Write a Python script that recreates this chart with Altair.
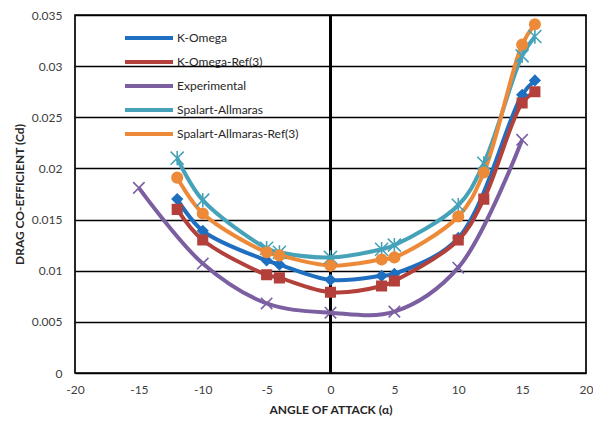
import altair as alt
import pandas as pd

# ---- data ----
series_names = ["K-Omega", "K-Omega-Ref(3)", "Experimental", "Spalart-Allmaras", "Spalart-Allmaras-Ref(3)"]
colors = ["#1f6fc0", "#b3403b", "#7b5fa0", "#46a2b8", "#ec8a39"]

kw_x = [-12, -10, -5, -4, 0, 4, 5, 10, 15, 16]
kw_y = [0.0170, 0.0139, 0.0110, 0.0106, 0.0091, 0.0095, 0.0097, 0.0132, 0.0272, 0.0286]

kwr_x = [-12, -10, -5, -4, 0, 4, 5, 10, 12, 15, 16]
kwr_y = [0.0160, 0.0130, 0.0096, 0.0093, 0.0079, 0.0085, 0.0090, 0.0130, 0.0170, 0.0264, 0.0275]

exp_x = [-15, -10, -5, 0, 5, 10, 15]
exp_y = [0.0181, 0.0107, 0.0068, 0.0059, 0.0060, 0.0103, 0.0228]

sa_x = [-12, -10, -5, -4, 0, 4, 5, 10, 12, 15, 16]
sa_y = [0.0210, 0.0169, 0.0122, 0.0118, 0.0113, 0.0121, 0.0125, 0.0164, 0.0205, 0.0310, 0.0329]

sar_x = [-12, -10, -5, -4, 0, 4, 5, 10, 12, 15, 16]
sar_y = [0.0191, 0.0156, 0.0118, 0.0115, 0.0105, 0.0111, 0.0113, 0.0153, 0.0196, 0.0321, 0.0341]

x_ticks = [-20, -15, -10, -5, 0, 5, 10, 15, 20]
y_ticks = [0, 0.005, 0.01, 0.015, 0.02, 0.025, 0.03, 0.035]

marker_shapes = [
    "diamond",
    "square",
    "M-1,-1L1,1M-1,1L1,-1",
    "M-1,-1L1,1M-1,1L1,-1M0,-1.1L0,1.1",
    "circle",
]
marker_sizes = [100, 90, 130, 170, 110]

rows = []
for name, xs, ys in zip(series_names,
                        [kw_x, kwr_x, exp_x, sa_x, sar_x],
                        [kw_y, kwr_y, exp_y, sa_y, sar_y]):
    for i, (a, b) in enumerate(zip(xs, ys)):
        rows.append({"series": name, "alpha": a, "cd": b, "order": i})
df = pd.DataFrame(rows)

font = "Lato"

x_enc = alt.X("alpha:Q", scale=alt.Scale(domain=[-20, 20], nice=False),
              axis=alt.Axis(values=x_ticks, title="ANGLE OF ATTACK (α)", grid=False,
                            ticks=False, domain=False, labelPadding=11, labelFlush=False,
                            titlePadding=9, labelExpr="'' + datum.value"))
y_enc = alt.Y("cd:Q", scale=alt.Scale(domain=[0, 0.035], nice=False),
              axis=alt.Axis(values=y_ticks, title="DRAG CO-EFFICIENT (Cd)", grid=True,
                            gridColor="#000000", gridWidth=1.7, ticks=False, domain=False,
                            labelPadding=13, titlePadding=5, format="~g"))

color_scale = alt.Scale(domain=series_names, range=colors)

zero_rule = alt.Chart(df).mark_rule(color="#000000", strokeWidth=1.7).encode(
    x=alt.datum(0)
)

lines = alt.Chart(df).mark_line(strokeWidth=4, interpolate="catmull-rom").encode(
    x=x_enc,
    y=y_enc,
    color=alt.Color("series:N", scale=color_scale, sort=series_names,
                    legend=alt.Legend(title=None, orient="none", legendX=67, legendY=16,
                                      symbolType="M-4.8,0H4.8", symbolSize=100,
                                      symbolStrokeWidth=4, labelOffset=21,
                                      rowPadding=8, padding=0,
                                      labelFont=font, labelFontSize=12,
                                      labelColor="#262626")),
    order="order:Q",
)

point_layers = []
for name, col, shp, sz in zip(series_names, colors, marker_shapes, marker_sizes):
    point_layers.append(
        alt.Chart(df).transform_filter(alt.datum.series == name)
        .mark_point(filled=True, opacity=1, strokeWidth=1.6, fill=col, stroke=col,
                    shape=shp, size=sz)
        .encode(x="alpha:Q", y="cd:Q")
    )

chart = alt.layer(zero_rule, lines, *point_layers).properties(
    width=511,
    height=358,
    autosize=alt.AutoSizeParams(type="none"),
    padding={"left": 67, "top": 7, "right": 7, "bottom": 45},
).configure_view(
    stroke="#000000", strokeWidth=1.7
).configure_axis(
    labelFont=font, labelFontSize=12, labelColor="#404040",
    titleFont=font, titleFontSize=12, titleFontWeight="bold", titleColor="#262626",
)

chart.save("out.html", embed_options={"renderer": "svg", "actions": False})
